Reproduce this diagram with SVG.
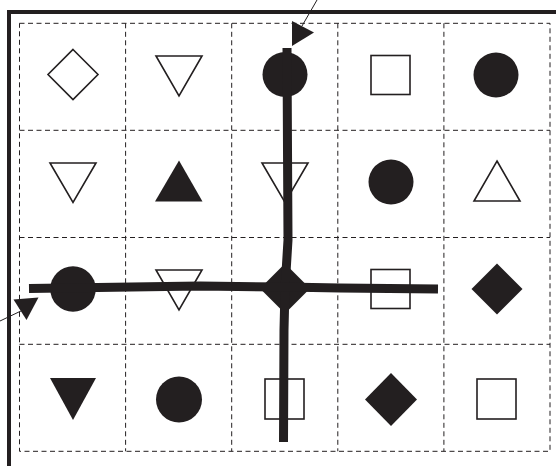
<svg xmlns="http://www.w3.org/2000/svg" width="556" height="466" viewBox="0 0 556 466">
<style>
.grid{stroke:#231f20;stroke-width:1;stroke-dasharray:5,3.5;fill:none}
.frame{stroke:#231f20;stroke-width:4;fill:none}
.o{fill:#fff;stroke:#231f20;stroke-width:1.6}
.f{fill:#231f20;stroke:none}
.thick{stroke:#231f20;stroke-width:9;fill:none;stroke-linejoin:round}
.thin{stroke:#231f20;stroke-width:1;fill:none}
</style>
<rect width="556" height="466" fill="#fff"/>
<g id="frame">
<line class="frame" x1="7" y1="12" x2="556" y2="12"/>
<line class="frame" x1="9" y1="10" x2="9" y2="466"/>
</g>
<g id="grid">
<rect class="grid" x="19.5" y="23.3" width="530.5" height="428"/>
<line class="grid" x1="125.6" y1="23.3" x2="125.6" y2="451.3"/>
<line class="grid" x1="231.7" y1="23.3" x2="231.7" y2="451.3"/>
<line class="grid" x1="337.8" y1="23.3" x2="337.8" y2="451.3"/>
<line class="grid" x1="443.9" y1="23.3" x2="443.9" y2="451.3"/>
<line class="grid" x1="19.5" y1="130.3" x2="550" y2="130.3"/>
<line class="grid" x1="19.5" y1="237.5" x2="550" y2="237.5"/>
<line class="grid" x1="19.5" y1="344.3" x2="550" y2="344.3"/>
</g>
<!-- row 1 -->
<g id="r1c1"><polygon class="o" points="73,49.5 98,74.5 73,99.5 48,74.5"/></g>
<g id="r1c2"><polygon class="o" points="156,56 202,56 179,96"/></g>
<g id="r1c3"><circle class="f" cx="285" cy="74.5" r="22.5"/></g>
<g id="r1c4"><rect class="o" x="371" y="55.5" width="39" height="39"/></g>
<g id="r1c5"><circle class="f" cx="496" cy="75" r="22.5"/></g>
<!-- row 2 -->
<g id="r2c1"><polygon class="o" points="50,163 96,163 73,202.5"/></g>
<g id="r2c2"><polygon class="f" points="179,160.5 202.5,201.5 155,201.5"/></g>
<g id="r2c3"><polygon class="o" points="262,163 308,163 285,202.5"/></g>
<g id="r2c4"><circle class="f" cx="391" cy="182" r="22.5"/></g>
<g id="r2c5"><polygon class="o" points="497,161 520,201 474,201"/></g>
<!-- row 3 -->
<g id="r3c1"><circle class="f" cx="73" cy="289" r="22.8"/></g>
<g id="r3c2"><polygon class="o" points="156,270 202,270 179,310"/></g>
<g id="r3c3"><polygon class="f" points="285,263.5 310,288.5 285,313.5 260,288.5"/></g>
<g id="r3c4"><rect class="o" x="371" y="269.5" width="39" height="39"/></g>
<g id="r3c5"><polygon class="f" points="497,263.5 522.5,289 497,314.5 471.5,289"/></g>
<!-- row 4 -->
<g id="r4c1"><polygon class="f" points="50,378 96,378 73,420"/></g>
<g id="r4c2"><circle class="f" cx="179" cy="399.5" r="23"/></g>
<g id="r4c3"><rect class="o" x="265" y="379" width="39" height="40"/></g>
<g id="r4c4"><polygon class="f" points="391,373 417,399.5 391,426 365,399.5"/></g>
<g id="r4c5"><rect class="o" x="477" y="379" width="39" height="40"/></g>
<g id="connectors">
<path class="thick" d="M287,48 L287.5,150 L288,240 L285,289 L284,330 L283.5,442"/>
<path class="thick" d="M29,288.5 L200,286 L285,287 L340,288 L438,289"/>
<line class="thin" x1="317" y1="0" x2="302" y2="26"/>
<polygon class="f" points="292,21 314,32.5 292,46"/>
<line class="thin" x1="0" y1="321" x2="23" y2="310"/>
<polygon class="f" points="13.5,299.5 38.5,297.5 26.5,320"/>
</g>
</svg>
